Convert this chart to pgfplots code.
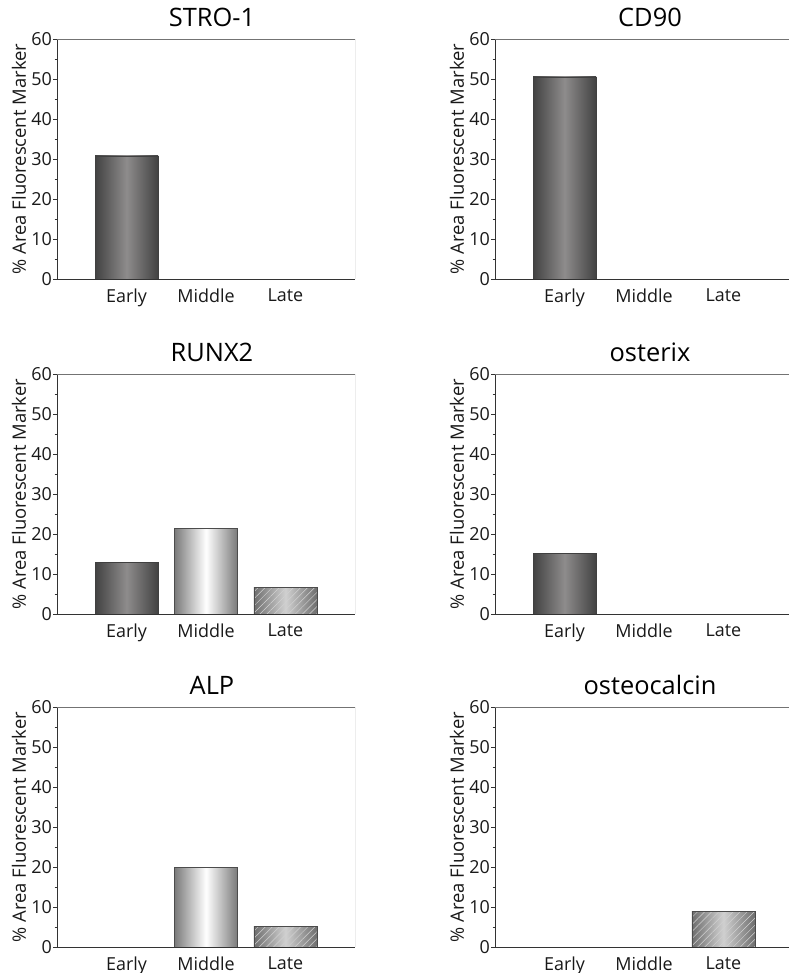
\documentclass[border=0pt]{standalone}
\usepackage{fontspec}
\setmainfont{Open Sans}
\usepackage{pgfplots}
\pgfplotsset{compat=1.18}
\usetikzlibrary{patterns.meta}
\definecolor{edark}{HTML}{424242}
\definecolor{emid}{HTML}{8E8C8C}
\definecolor{mdark}{HTML}{7A7A7A}
\definecolor{ldark}{HTML}{6E6E6E}
\definecolor{llight}{HTML}{D0D0D0}
\pgfplotsset{
  panel/.style={
    scale only axis, width=298bp, height=240bp, anchor=south west,
    xmin=-0.875, xmax=2.875, ymin=0, ymax=60,
    xtick={0,1,2}, xticklabels={Early,Middle,Late},
    x tick style={draw=none},
    ytick={0,10,...,60}, ytick pos=left,
    axis x line*=bottom, axis y line*=left,
    axis line style={black!80, line width=0.8bp},
    tick align=outside, major tick length=4bp,
    y tick style={black!80, line width=0.6bp},
    minor y tick num=1, minor tick length=2.5bp,
    ylabel={\% Area Fluorescent Marker},
    every axis y label/.style={at={(axis description cs:-0.128,0.5)}, rotate=90, anchor=center, font=\fontsize{18.5}{22}\selectfont, black!90},
    ticklabel style={font=\fontsize{18}{21}\selectfont, black!90},
    yticklabel style={inner sep=1bp},
    xticklabel style={yshift=-2bp},
    /pgf/number format/assume math mode=true,
    title style={at={(axis description cs:0.5,1)}, anchor=base, yshift=7bp, xshift=6bp, font=\fontsize{25.5}{30}\selectfont, black},
    ybar, bar width=63bp, bar shift=0pt,
  },
  early/.style={ybar, draw=black!75, line width=0.5bp, left color=edark, right color=edark, middle color=emid},
  middle/.style={ybar, draw=black!70, line width=0.5bp, left color=mdark, right color=mdark, middle color=white},
  late/.style={ybar, draw=black!70, line width=0.5bp, left color=ldark, right color=ldark, middle color=llight},
  hatch/.style={ybar, draw=black!70, line width=0.5bp, pattern={Lines[angle=45, distance=5bp, line width=0.5bp]}, pattern color=white!82!black},
}
\newcommand{\frameTR}{\draw[black!55, line width=0.6bp] (rel axis cs:0,1) -- (rel axis cs:1,1) -- (rel axis cs:1,0);}
\begin{document}
\begin{tikzpicture}
\useasboundingbox (0,0) rectangle (789bp,973bp);
% Row 1
\begin{axis}[panel, at={(57bp,694bp)}, title={STRO-1}]
\addplot[early] coordinates {(0,30.8)};
\frameTR
\end{axis}
\begin{axis}[panel, at={(495bp,694bp)}, title={CD90}]
\addplot[early] coordinates {(0,50.5)};
\frameTR
\end{axis}
% Row 2
\begin{axis}[panel, at={(57bp,359bp)}, title={RUNX2}]
\addplot[early] coordinates {(0,12.85)};
\addplot[middle] coordinates {(1,21.4)};
\addplot[late] coordinates {(2,6.7)};
\addplot[hatch] coordinates {(2,6.7)};
\frameTR
\end{axis}
\begin{axis}[panel, at={(495bp,359bp)}, title={osterix}]
\addplot[early] coordinates {(0,15.2)};
\frameTR
\end{axis}
% Row 3
\begin{axis}[panel, at={(57bp,26bp)}, title={ALP}]
\addplot[middle] coordinates {(1,19.9)};
\addplot[late] coordinates {(2,5.15)};
\addplot[hatch] coordinates {(2,5.15)};
\frameTR
\end{axis}
\begin{axis}[panel, at={(495bp,26bp)}, title={osteocalcin}]
\addplot[late] coordinates {(2,8.9)};
\addplot[hatch] coordinates {(2,8.9)};
\frameTR
\end{axis}
\end{tikzpicture}
\end{document}
